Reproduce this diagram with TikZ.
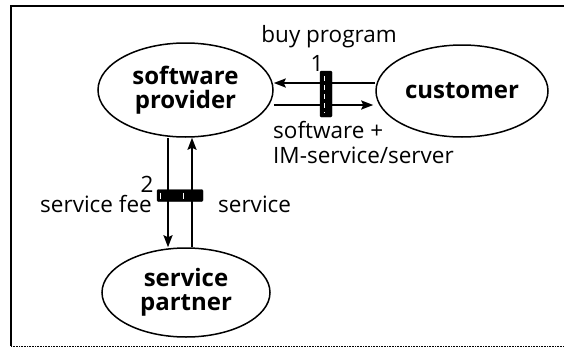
\documentclass[tikz,border=0pt]{standalone}
\usepackage{fontspec}
\setmainfont{Open Sans}
\usetikzlibrary{shapes.geometric,arrows.meta,calc}
\begin{document}
\begin{tikzpicture}[x=1pt,y=-1pt,
  actor/.style={ellipse,draw,line width=1.5pt,font=\fontsize{24}{24}\selectfont\bfseries,align=center,inner sep=0pt},
  lbl/.style={font=\fontsize{22.5}{24}\selectfont,inner sep=0pt},
  arr/.style={line width=1.9pt,-{Stealth[length=12pt,width=9pt,inset=2pt]}},
  gate/.style={fill=black,draw=black,rounded corners=1.2pt}]
\useasboundingbox (0,0) rectangle (564,348);
% frame
\draw[line width=2.4pt] (564,6) -- (11,6) -- (11,346);
\draw[line width=0.6pt,densely dotted] (11,346) -- (564,346);
% actors
\node[actor,minimum width=175pt,minimum height=94pt] (sp) at (185.5,90) {software\\provider};
\node[actor,minimum width=172pt,minimum height=92pt] (cu) at (462,91) {customer};
\node[actor,minimum width=168pt,minimum height=89pt] (pa) at (186,292.5) {service\\partner};
% helper coordinates
\coordinate (ya) at (0,83);
\coordinate (yb) at (0,105);
\coordinate (xa) at (168,0);
\coordinate (xb) at (192,0);
% horizontal arrows
\draw[arr] (cu.west |- ya) -- (sp.east |- ya);
\draw[arr] (sp.east |- yb) -- ([xshift=-2pt]cu.west |- yb);
% vertical arrows
\draw[arr] (sp.south -| xa) -- (pa.north -| xa);
\draw[arr] (pa.north -| xb) -- (sp.south -| xb);
% gate 1
\node[gate,minimum width=12pt,minimum height=46pt,inner sep=0pt] (g1) at (326,94) {};
\draw[white,line width=0.7pt,dash pattern=on 5pt off 4pt] ($(g1.north)+(-2,5)$) -- ($(g1.south)+(-2,-5)$);
% gate 2
\node[gate,minimum width=46pt,minimum height=12pt,inner sep=0pt] (g2) at (180,195.5) {};
\draw[white,line width=0.8pt] ($(g2.west)+(4,-3)$) -- ($(g2.west)+(4,3)$);
\draw[white,line width=0.8pt] ($(g2.west)+(27,-3)$) -- ($(g2.west)+(27,3)$);
% labels
\node[lbl,anchor=base east] (buy) at (397,42) {buy program};
\node[lbl,anchor=base] (one) at (317,71) {1};
\node[lbl,anchor=base west] (sw1) at (273,138) {software +};
\node[lbl,anchor=base west] (sw2) at (273,163) {IM-service/server};
\node[lbl,anchor=base] (two) at (147,192) {2};
\node[lbl,anchor=base east] (fee) at (152,212) {service fee};
\node[lbl,anchor=base west] (srv) at (218,212) {service};
\end{tikzpicture}
\end{document}
